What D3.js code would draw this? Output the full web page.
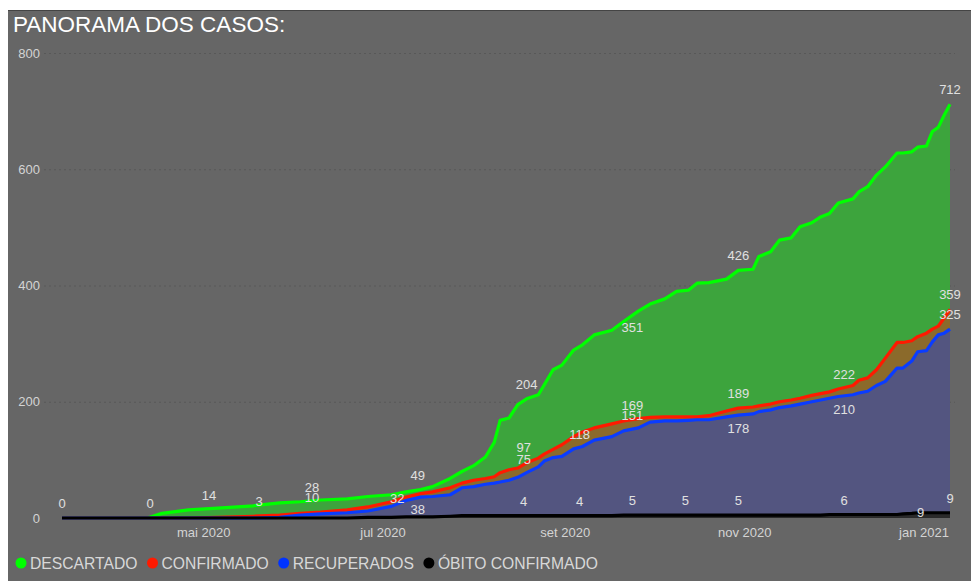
<!doctype html>
<html lang="pt">
<head>
<meta charset="utf-8">
<title>Panorama dos casos</title>
<script src="https://d3js.org/d3.v7.min.js"></script>
<style>
  body { margin: 0; background: #fff; }
  svg { display: block; }
  text { font-family: 'Liberation Sans', Arial, sans-serif; }
  .tick text { fill: #d4d4d4; font-size: 13px; }
  .grid line { stroke: #585858; stroke-dasharray: 2 3; }
  .lbl { fill: #e0e0e0; font-size: 13px; }
  .leg { fill: #d8d8d8; font-size: 15.7px; }
</style>
</head>
<body>
<svg id="chart" width="971" height="581"></svg>
<script>
// datas de leitura (aprox.) e valores acumulados
const dates = ['2020-03-14','2020-04-12','2020-04-17','2020-04-26','2020-05-06','2020-05-18','2020-05-27',
  '2020-06-03','2020-06-10','2020-06-19','2020-06-26','2020-07-04','2020-07-09','2020-07-14','2020-07-18',
  '2020-07-24','2020-07-28','2020-08-01','2020-08-05','2020-08-08','2020-08-10','2020-08-13','2020-08-16',
  '2020-08-19','2020-08-23','2020-08-25','2020-08-28','2020-08-31','2020-09-04','2020-09-07','2020-09-11',
  '2020-09-17','2020-09-21','2020-09-26','2020-09-30','2020-10-05','2020-10-09','2020-10-13','2020-10-16',
  '2020-10-20','2020-10-26','2020-10-30','2020-11-04','2020-11-06','2020-11-10','2020-11-13','2020-11-17',
  '2020-11-20','2020-11-24','2020-11-27','2020-11-30','2020-12-03','2020-12-08','2020-12-10','2020-12-13',
  '2020-12-16','2020-12-19','2020-12-23','2020-12-25','2020-12-28','2020-12-30','2021-01-02','2021-01-04',
  '2021-01-06','2021-01-08','2021-01-10'];

const descartado = [0,0,8,14,17,21,26,28,31,33,37,40,45,49,54,68,80,90,105,130,168,172,195,205,212,229,255,263,
  289,298,315,323,338,356,368,377,390,392,404,405,411,426,428,450,458,478,482,501,508,518,524,542,549,561,570,
  590,604,628,628,630,638,640,665,672,693,712];
const confirmado = [0,0,0,0,1,3,5,8,10,14,19,28,36,42,45,52,60,65,68,71,78,83,86,95,103,110,118,126,140,148,155,
  162,167,171,173,174,174,174,174,176,184,189,191,193,196,200,203,206,211,214,217,222,228,237,241,255,275,302,302,
  305,312,318,325,330,344,359];
const recuperados = [0,0,0,0,0,0,1,5,7,9,12,20,30,36,37,40,52,54,58,60,62,65,70,78,88,98,104,106,119,123,134,140,
  150,155,165,167,167,168,169,169,174,177,179,183,186,190,193,196,200,203,206,209,212,215,218,228,235,258,258,270,
  286,288,303,315,318,325];
const obito = [0,0,0,0,0,0,0,0,0,0,1,1,2,2,2,3,4,4,4,4,4,4,4,4,4,4,4,4,4,4,4,4,5,5,5,5,5,5,5,5,5,5,5,5,5,5,5,5,5,5,
  6,6,6,6,6,6,6,6,7,8,9,9,9,9,9,9];

const seriesNames = ['DESCARTADO', 'CONFIRMADO', 'RECUPERADOS', 'ÓBITO CONFIRMADO'];
const seriesValues = [descartado, confirmado, recuperados, obito];
const lineColors = ['#00ff00', '#ff1a00', '#0a3cff', '#000000'];
const dotColors = ['#00ff00', '#ff1a00', '#0033ff', '#000000'];
const fillColors = ['#3da43d', '#8b6a2b', '#535580', '#2a2a2a'];

const yTicks = [0, 200, 400, 600, 800];
const monthNames = ['jan','fev','mar','abr','mai','jun','jul','ago','set','out','nov','dez'];

// rótulos de dados: série, data, valor, lado
const labels = [
  [3,'2020-03-14',0,'up'], [3,'2020-04-13',0,'up'], [0,'2020-05-03',14,'up'], [1,'2020-05-20',3,'up'],
  [0,'2020-06-07',28,'up'], [1,'2020-06-07',10,'up'], [1,'2020-07-06',32,'on'], [2,'2020-07-13',38,'down'],
  [0,'2020-07-13',49,'up'], [0,'2020-08-19',204,'up'], [1,'2020-08-18',97,'up'], [2,'2020-08-18',75,'up'],
  [3,'2020-08-18',4,'up'], [2,'2020-09-06',118,'up'], [3,'2020-09-06',4,'up'], [0,'2020-09-24',351,'down'],
  [1,'2020-09-24',169,'up'], [2,'2020-09-24',151,'up'], [3,'2020-09-24',5,'up'], [3,'2020-10-12',5,'up'],
  [0,'2020-10-30',426,'up'], [1,'2020-10-30',189,'up'], [2,'2020-10-30',178,'down'], [3,'2020-10-30',5,'up'],
  [1,'2020-12-05',222,'up'], [2,'2020-12-05',210,'down'], [3,'2020-12-05',6,'up'], [3,'2020-12-31',9,'on'],
  [0,'2021-01-10',712,'up'], [1,'2021-01-10',359,'up'], [2,'2021-01-10',325,'up'], [3,'2021-01-10',9,'up']
];

const W = 971, H = 581;
const parse = d3.timeParse('%Y-%m-%d');
const svg = d3.select('#chart');

// painel cinza
svg.append('rect').attr('x', 8).attr('y', 10).attr('width', W - 8).attr('height', H - 10).attr('fill', '#666');
svg.append('line').attr('x1', 8).attr('x2', W).attr('y1', 10.5).attr('y2', 10.5).attr('stroke', '#444');

svg.append('text').attr('x', 13).attr('y', 32)
  .attr('fill', '#fff').style('font-size', '22.5px')
  .text('PANORAMA DOS CASOS:');

const x = d3.scaleTime()
  .domain([parse(dates[0]), parse(dates[dates.length - 1])])
  .range([62, 950]);
const y = d3.scaleLinear().domain([0, 800]).range([518, 53]);

// grade
svg.append('g').attr('class', 'grid')
  .selectAll('line').data(yTicks.slice(1)).join('line')
  .attr('x1', 44).attr('x2', 955)
  .attr('y1', d => y(d) + 0.5).attr('y2', d => y(d) + 0.5);

const yAxis = svg.append('g').attr('transform', 'translate(40,0)')
  .call(d3.axisLeft(y).tickValues(yTicks).tickSize(0).tickPadding(0));
yAxis.select('.domain').remove();
yAxis.selectAll('text').style('font-family', "'Liberation Sans', Arial, sans-serif");

const xAxis = svg.append('g').attr('transform', 'translate(0,524)')
  .call(d3.axisBottom(x).ticks(d3.timeMonth.every(2)).tickSize(0).tickPadding(4)
    .tickFormat(d => monthNames[d.getMonth()] + ' ' + d.getFullYear()));
xAxis.select('.domain').remove();
xAxis.selectAll('.tick').filter(d => d.getMonth() % 2 === 1).remove();
xAxis.selectAll('text').style('font-family', "'Liberation Sans', Arial, sans-serif");

const pts = seriesValues.map(vals => vals.map((v, i) => ({ d: parse(dates[i]), v: v })));

const area = d3.area().x(p => x(p.d)).y0(y(0)).y1(p => y(p.v));
const line = d3.line().x(p => x(p.d)).y(p => y(p.v));

pts.forEach((p, i) => {
  svg.append('path').datum(p).attr('d', area).attr('fill', fillColors[i]);
});
pts.forEach((p, i) => {
  svg.append('path').datum(p).attr('d', line)
    .attr('fill', 'none').attr('stroke', lineColors[i])
    .attr('stroke-width', 3.2).attr('stroke-linejoin', 'round');
});

const dyBySide = { up: -10, down: 18, on: 4 };
svg.append('g').selectAll('text').data(labels).join('text')
  .attr('class', 'lbl')
  .attr('text-anchor', 'middle')
  .attr('x', l => x(parse(l[1])))
  .attr('y', l => y(l[2]) + dyBySide[l[3]])
  .text(l => l[2]);

// legenda
const leg = svg.append('g').attr('transform', 'translate(0,563)');
let lx = 21;
seriesNames.forEach((name, i) => {
  leg.append('circle').attr('cx', lx).attr('cy', 0).attr('r', 5.5).attr('fill', dotColors[i]);
  const t = leg.append('text').attr('class', 'leg').attr('x', lx + 9).attr('y', 5.5).text(name);
  lx += 9 + t.node().getComputedTextLength() + 15;
});
</script>
</body>
</html>
